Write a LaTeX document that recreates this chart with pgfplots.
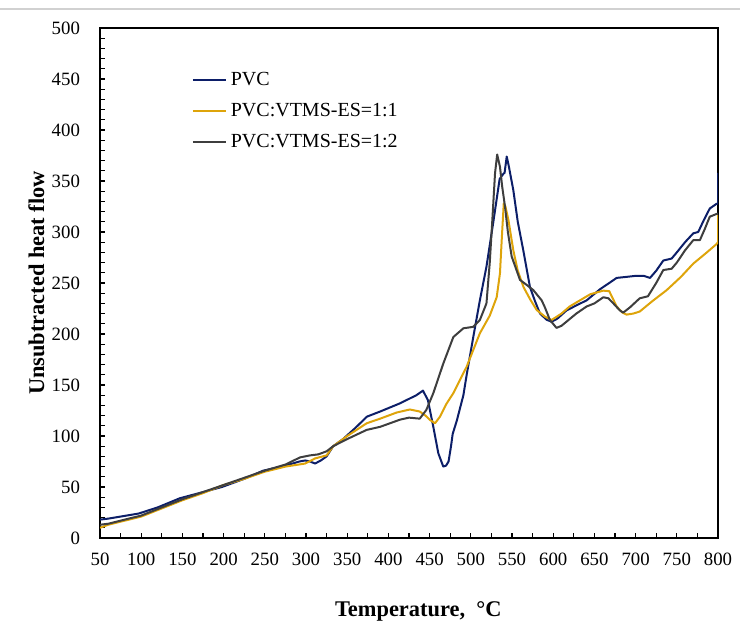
\documentclass[border=0pt]{standalone}
\usepackage{pgfplots}
\pgfplotsset{compat=1.18}
\usepackage{fontspec}
\setmainfont{Liberation Serif}
\definecolor{pvcblue}{RGB}{12,30,104}
\definecolor{pvcgold}{RGB}{222,164,10}
\definecolor{pvcgray}{RGB}{62,62,62}
\newcommand{\tickfont}{\fontsize{9.4}{11}\selectfont}
\newcommand{\labfont}{\fontsize{11.2}{13}\selectfont\bfseries}
\newcommand{\legfont}{\fontsize{10}{12}\selectfont}
\begin{document}
\begin{tikzpicture}
\begin{axis}[
  scale only axis,
  width=309pt, height=255pt,
  xmin=50, xmax=800, ymin=0, ymax=500,
  xtick={50,100,...,800}, ytick={0,50,...,500},
  minor x tick num=1, minor y tick num=4,
  tick pos=left, tick align=inside,
  major tick length=2.6pt, minor tick length=2.6pt,
  tick style={black, line width=0.6pt},
  axis line style={black, line width=0.75pt},
  xticklabel={\tickfont\pgfmathprintnumber{\tick}},
  yticklabel={\tickfont\pgfmathprintnumber{\tick}},
  /pgf/number format/assume math mode=true,
  xticklabel style={yshift=-4pt},
  yticklabel style={xshift=-6.5pt},
  xlabel={\labfont Temperature,\ \ °C},
  ylabel={\labfont Unsubtracted heat flow},
  every axis x label/.style={at={(axis description cs:0.515,-0.1443)},anchor=center},
  every axis y label/.style={at={(axis description cs:-0.103,0.5)},anchor=center,rotate=90},
  legend style={draw=none, fill=none, at={(rel axis cs:0.148,0.922)}, anchor=north west,
    row sep=3.3pt, inner sep=0pt},
  legend cell align=left,
  legend image code/.code={\draw[#1] (0pt,0pt) -- (16.5pt,0pt);},
  every axis plot/.append style={line width=1pt, line join=round},
]
\addplot[pvcblue] coordinates {
(50,18) (60,19) (75,21) (97,24) (120,30) (147,39) (175,45) (198,50) (225,58) (248,66)
(275,71) (292,75) (299,76) (305,75) (311,73) (318,76) (325,80) (333,90) (345,97) (360,108)
(374,119) (390,124) (414,132) (434,140) (442,144.5) (448,135) (454.5,109) (460.6,83)
(466.6,70) (470,71) (473,75) (476,90) (478,102) (483,115) (491,140) (495,160) (503,197)
(511,233) (519,266) (527,308) (535,352) (539.5,357) (541,358) (543.6,374) (546,365)
(551.6,341) (557,310) (563.7,282) (571.8,246) (578,232) (584,220) (592,214) (598,212)
(605,215) (616,223) (628,228) (640.6,233) (657,244) (668,250) (677,255) (689,256)
(700,257) (710,257) (717.5,255) (725,262) (733.6,272) (743.8,274) (750,280) (760,290)
(770,298.7) (776,300) (783,312) (790,323) (798,327.5) (800,328) (800,358)
};
\addlegendentry{\legfont PVC}
\addplot[pvcgold] coordinates {
(50,10) (60,13) (75,16) (100,21) (125,29) (150,37) (175,44) (200,52) (225,58) (250,65)
(275,70) (299,73) (311,78) (325,81) (333,90) (350,100) (373.7,112.5) (390,117) (410,123)
(426,126) (438,124) (445,120) (450.5,115.7) (456.6,112.5) (462.6,119) (470,131)
(478.8,142) (495,168) (511,200.7) (523,218) (531.4,236) (535.4,259.5) (537.5,292)
(540,328) (542,325) (545.6,312) (551.6,282) (557,262) (564,246) (572,234) (580,223.5)
(590,217) (598,213.7) (610,220) (620,227) (632.5,233) (645,239) (660.8,242.5) (668,242)
(671,237) (677,227) (684,221) (689,219) (697,220) (705,222) (720,232) (737.7,243)
(755,256) (770,269) (785,279) (798,288) (800,290) (800,317)
};
\addlegendentry{\legfont PVC:VTMS-ES=1:1}
\addplot[pvcgray] coordinates {
(50,13) (60,14) (75,17) (100,22) (125,30) (150,38) (175,45) (200,52) (225,59) (250,66)
(275,72) (292.7,79) (305,81) (315,82) (325,85) (333,90) (350,97) (373.7,106) (390,109)
(414,116) (425,118) (438,117) (446,125.5) (454.5,142) (466.6,171) (478.8,197) (491,205.6)
(503,207) (511,213.7) (519,230) (523,270) (526,310) (529.4,357.5) (532,376) (535.4,364)
(538,345) (541.5,325) (545,300) (549.6,276) (559.7,253) (568,248) (575.9,243) (586,233)
(590,226) (596,213.7) (604,206) (610,208) (616,212) (628,220) (640.6,227) (650,230)
(660.8,236) (667,235) (673,230) (681,223) (685,221) (693,226) (705,235) (715,237)
(725,250) (733.6,262.7) (743.8,264) (750,270) (760,282) (770,292) (778,292) (784,303)
(790,315) (798,317.6) (800,318)
};
\addlegendentry{\legfont PVC:VTMS-ES=1:2}
\end{axis}
\draw[black!18, line width=0.8pt] ([shift={(-50pt,9.5pt)}]current axis.north west) -- ([shift={(11pt,9.5pt)}]current axis.north east);
\pgfresetboundingbox
\path[use as bounding box] ([shift={(-50pt,-43pt)}]current axis.south west) rectangle ([shift={(11pt,14pt)}]current axis.north east);
\end{tikzpicture}
\end{document}
